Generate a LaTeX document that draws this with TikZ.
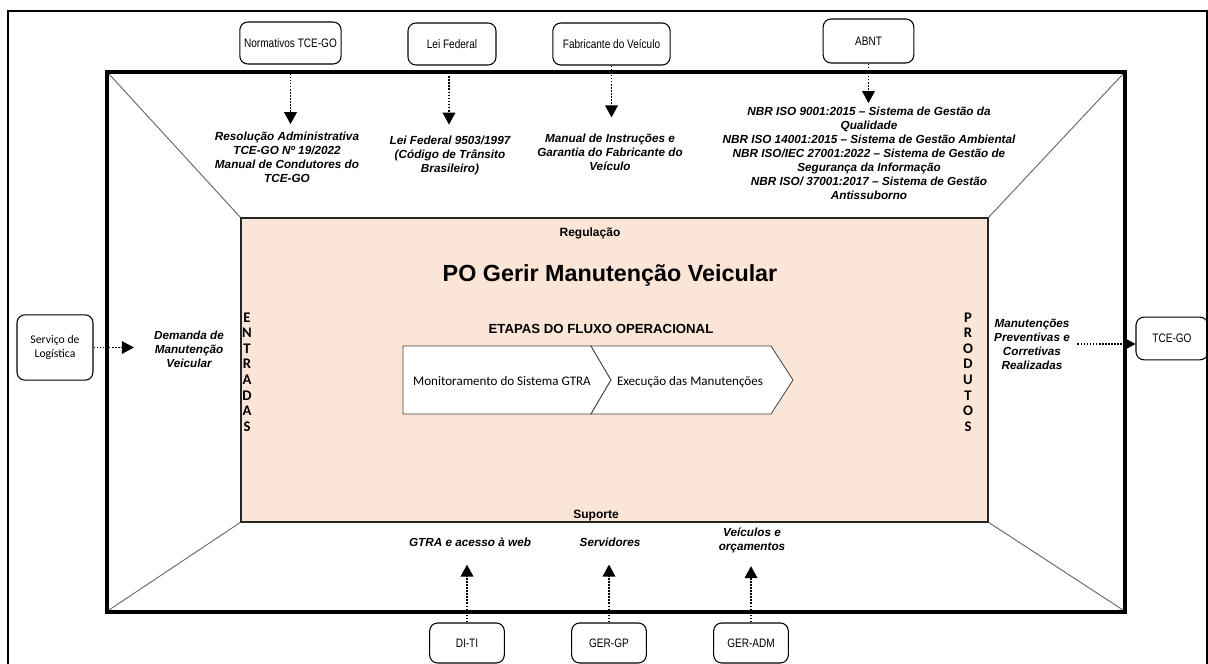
\documentclass[tikz,border=0pt]{standalone}
\usepackage{fontspec}
\setmainfont{Liberation Sans}
\newfontfamily\narrowfont[FakeStretch=0.82]{Liberation Sans}
\newfontfamily\calfont{Carlito}
\usetikzlibrary{arrows.meta}
\definecolor{peach}{HTML}{FBE5D6}

\begin{document}
\begin{tikzpicture}[x=0.75pt,y=-0.75pt,
    src/.style={draw,rounded corners=6pt,line width=0.8pt,align=center,inner sep=0pt,
        font=\narrowfont\fontsize{9.2}{11}\selectfont},
    srccal/.style={src,font=\calfont\fontsize{8.8}{10.5}\selectfont},
    lbl/.style={align=center,inner sep=1pt,font=\bfseries\itshape\fontsize{8.8}{10.5}\selectfont},
    vert/.style={align=center,inner sep=0pt,font=\calfont\bfseries\fontsize{11}{11.7}\selectfont},
    flow/.style={line width=1.1pt,dash pattern=on 1.2pt off 1.1pt,-{Triangle[length=9pt,width=9.5pt]}}]
    \useasboundingbox (0,0) rectangle (1208,664);

    \draw[line width=2pt] (8,11) rectangle (1207,675);
    \draw[line width=2.3pt] (107,72) rectangle (1125,612);
    \draw[black!60,line width=0.7pt] (109,74) -- (241,218);
    \draw[black!60,line width=0.7pt] (1123,74) -- (988,218);
    \draw[black!60,line width=0.7pt] (109,610) -- (241,522);
    \draw[black!60,line width=0.7pt] (1123,610) -- (988,522);
    \draw[fill=peach,draw=black!85,line width=1.1pt] (241,218) rectangle (988,522);

    \node[anchor=base,font=\bfseries\fontsize{9}{10}\selectfont] (reg) at (590,236) {Regulação};
    \node[anchor=base,font=\bfseries\fontsize{17.5}{20}\selectfont] (title) at (610,281) {PO Gerir Manutenção Veicular};
    \node[anchor=base,font=\bfseries\fontsize{9.9}{12}\selectfont] (etapas) at (601,333) {ETAPAS DO FLUXO OPERACIONAL};
    \node[anchor=base,font=\bfseries\fontsize{9}{10}\selectfont] (sup) at (596,518) {Suporte};

    \draw[fill=white,draw=black!75,line width=0.6pt] (403,346) -- (591,346) -- (611,380) -- (591,414) -- (403,414) -- cycle;
    \draw[fill=white,draw=black!75,line width=0.6pt] (591,346) -- (771,346) -- (793,380) -- (771,414) -- (591,414) -- (611,380) -- cycle;
    \node[anchor=base,font=\calfont\fontsize{9.8}{12}\selectfont] (mon) at (502,385) {Monitoramento do Sistema GTRA};
    \node[anchor=base,font=\calfont\fontsize{9.8}{12}\selectfont] (exe) at (690,385) {Execução das Manutenções};

    \node[vert] (ent) at (247,372) {E\\N\\T\\R\\A\\D\\A\\S};
    \node[vert] (prod) at (968,372) {P\\R\\O\\D\\U\\T\\O\\S};

    \node[src,minimum width=76pt,minimum height=31.5pt] (nor) at (290.5,43) {Normativos TCE-GO};
    \node[src,minimum width=66pt,minimum height=31.5pt] (lei) at (452,44) {Lei Federal};
    \node[src,minimum width=88pt,minimum height=31.5pt] (fab) at (611.5,44) {Fabricante do Veículo};
    \node[src,minimum width=68pt,minimum height=33pt] (abnt) at (868.5,41) {ABNT};
    \node[srccal,minimum width=57pt,minimum height=49pt] (svc) at (55,347.5) {Serviço de\\Logística};
    \node[src,minimum width=54pt,minimum height=32pt] (tce) at (1172,338.5) {TCE-GO};
    \node[src,minimum width=56pt,minimum height=30pt] (diti) at (467,643) {DI-TI};
    \node[src,minimum width=56pt,minimum height=30pt] (gergp) at (609,643) {GER-GP};
    \node[src,minimum width=56pt,minimum height=30pt] (geradm) at (751,643) {GER-ADM};

    \node[lbl] (resol) at (287,157) {Resolução Administrativa\\TCE-GO Nº 19/2022\\Manual de Condutores do\\TCE-GO};
    \node[lbl] (ctb) at (450,155) {Lei Federal 9503/1997\\(Código de Trânsito\\Brasileiro)};
    \node[lbl] (manual) at (610,152) {Manual de Instruções e\\Garantia do Fabricante do\\Veículo};
    \node[lbl] (iso) at (869,153) {NBR ISO 9001:2015 – Sistema de Gestão da\\Qualidade\\NBR ISO 14001:2015 – Sistema de Gestão Ambiental\\NBR ISO/IEC 27001:2022 – Sistema de Gestão de\\Segurança da Informação\\NBR ISO/ 37001:2017 – Sistema de Gestão\\Antissuborno};
    \node[lbl] (dem) at (189,349) {Demanda de\\Manutenção\\Veicular};
    \node[lbl] (real) at (1032,344) {Manutenções\\Preventivas e\\Corretivas\\Realizadas};
    \node[lbl] (web) at (470,542) {GTRA e acesso à web};
    \node[lbl] (serv) at (610,542) {Servidores};
    \node[lbl] (orc) at (752,540) {Veículos e\\orçamentos};

    \draw[flow,shorten <=4.5pt,shorten >=4.5pt] (nor.south) -- (nor.south |- resol.north);
    \draw[flow,shorten <=8pt,shorten >=7pt] ([xshift=-2.25pt]lei.south) -- ([xshift=-2.25pt]lei.south |- ctb.north);
    \draw[flow,shorten >=11pt] (fab.south) -- (fab.south |- manual.north);
    \draw[flow,shorten >=1.5pt] (abnt.south) -- (abnt.south |- iso.north);
    \draw[flow,shorten >=14pt] (svc.east) -- (svc.east -| dem.west);
    \draw[flow,shorten <=4.5pt] (real.east) -- (real.east -| tce.west);
    \draw[flow,shorten >=12.5pt] (diti.north) -- (diti.north |- web.south);
    \draw[flow,shorten >=12.5pt] (gergp.north) -- (gergp.north |- serv.south);
    \draw[flow,shorten >=9pt] (geradm.north) -- (geradm.north |- orc.south);
\end{tikzpicture}
\end{document}
